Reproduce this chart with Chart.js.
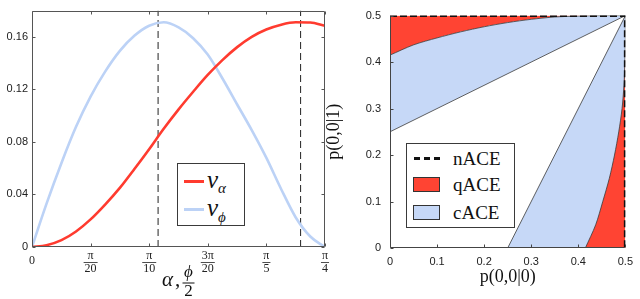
<!DOCTYPE html>
<html>
<head>
<meta charset="utf-8">
<script src="https://cdn.jsdelivr.net/npm/chart.js@4.4.1/dist/chart.umd.min.js"></script>
<style>
    html, body { margin: 0; padding: 0; background: #fff; }
    #wrap { position: relative; width: 640px; height: 299px; overflow: hidden; }
    #cL { position: absolute; left: 0; top: 0; }
    #cR { position: absolute; left: 322px; top: 0; }
    .leg { position: absolute; background: #fff; border: 1px solid #3a3a3a; box-sizing: border-box;
           font-family: "Liberation Serif", "DejaVu Serif", serif; color: #111; }
    .leg .it { position: absolute; white-space: nowrap; line-height: 1; }
    .sw { position: absolute; box-sizing: border-box; }
</style>
</head>
<body>
<div id="wrap">
    <canvas id="cL" width="332" height="299"></canvas>
    <canvas id="cR" width="318" height="299"></canvas>

    <!-- left legend -->
    <div class="leg" style="left:177px; top:163px; width:68px; height:63px;">
        <div class="sw" style="left:6px; top:16px; width:20px; height:2.5px; background:#ff3b2f;"></div>
        <div class="it" style="left:29px; top:3px; font-size:25px;"><i>v</i><span style="font-size:15px; position:relative; top:5px;"><i>α</i></span></div>
        <div class="sw" style="left:6px; top:44px; width:20px; height:2.5px; background:#bcd2f6;"></div>
        <div class="it" style="left:29px; top:31px; font-size:25px;"><i>v</i><span style="font-size:15px; position:relative; top:6px;"><i>ϕ</i></span></div>
    </div>

    <!-- right legend -->
    <div class="leg" style="left:406px; top:143px; width:109px; height:85px;">
        <div class="sw" style="left:7px; top:13px; width:27px; height:3px;
             background:repeating-linear-gradient(90deg,#111 0 6px,transparent 6px 10px);"></div>
        <div class="it" style="left:46px; top:5px; font-size:19px;">nACE</div>
        <div class="sw" style="left:6px; top:33px; width:27px; height:15px; background:#ff4433; border:1px solid #333;"></div>
        <div class="it" style="left:46px; top:31px; font-size:19px;">qACE</div>
        <div class="sw" style="left:6px; top:61px; width:27px; height:15px; background:#c6d8f7; border:1px solid #333;"></div>
        <div class="it" style="left:46px; top:59px; font-size:19px;">cACE</div>
    </div>
</div>

<script>
'use strict';

// ── left panel: v_alpha and v_phi against alpha, phi/2 ─────────
const angle  = [0, 0.039, 0.079, 0.118, 0.157, 0.196, 0.236, 0.275, 0.314, 0.353, 0.393,
                0.432, 0.471, 0.511, 0.550, 0.589, 0.628, 0.668, 0.707, 0.746, 0.785];
const vAlpha = [0, 0.0013, 0.0052, 0.0118, 0.0210, 0.0323, 0.0452, 0.0596, 0.0745, 0.0900, 0.1048,
                0.1182, 0.1310, 0.1425, 0.1522, 0.1600, 0.1656, 0.1693, 0.1711, 0.1709, 0.1684];
const vPhi   = [0, 0.0330, 0.0640, 0.0915, 0.1145, 0.1335, 0.1495, 0.1610, 0.1685, 0.1711, 0.1672,
                0.1590, 0.1465, 0.1281, 0.1085, 0.0890, 0.0680, 0.0440, 0.0225, 0.0080, 0];
const peakX  = [0.338, 0.720];           // dashed markers at the two maxima

const angleTicks = [0, 0.1571, 0.3142, 0.4712, 0.6283, 0.7854];
const tickNum    = ['0', 'π', 'π', '3π', 'π', 'π'];
const tickDen    = ['', '20', '10', '20', '5', '4'];
const vTicks     = [0, 0.04, 0.08, 0.12, 0.16];

// ── right panel: regions in the p(0,0|0), p(0,0|1) square ──────
const qTopX   = [0, 0.05, 0.10, 0.15, 0.20, 0.25, 0.30, 0.35, 0.40, 0.45, 0.50];
const qTopY   = [0.415, 0.437, 0.452, 0.465, 0.476, 0.485, 0.492, 0.497, 0.499, 0.500, 0.500];
const qSideX  = [0.415, 0.437, 0.452, 0.466, 0.477, 0.486, 0.493, 0.497, 0.499, 0.500, 0.500];
const qSideY  = [0, 0.05, 0.10, 0.15, 0.20, 0.25, 0.30, 0.35, 0.40, 0.45, 0.50];
const cTop    = [[0, 0.25], [0.5, 0.5]];
const cSide   = [[0.25, 0], [0.5, 0.5]];
const nEdge   = [[0, 0.5], [0.5, 0.5], [0.5, 0]];
const pTicks  = [0, 0.1, 0.2, 0.3, 0.4, 0.5];

const RED  = '#ff4433';
const BLUE = '#c6d8f7';
const EDGE = '#3a3a3a';
const SANS = '"Liberation Sans", Arial, sans-serif';
const SERIF = '"Liberation Serif", "DejaVu Serif", serif';

const xy = (xs, ys) => xs.map((x, i) => ({ x: x, y: ys[i] }));
const pairs = arr => arr.map(p => ({ x: p[0], y: p[1] }));

// box frame with short inward ticks
const framePlugin = {
    id: 'frame',
    afterDatasetsDraw(chart, args, opts) {
        const { ctx, chartArea: a, scales: { x, y } } = chart;
        const L = Math.round(a.left) + 0.5, R = Math.round(a.right) - 0.5;
        const T = Math.round(a.top) + 0.5, B = Math.round(a.bottom) - 0.5;
        const t = 3;
        ctx.save();
        ctx.strokeStyle = opts.color || '#444';
        ctx.lineWidth = 1;
        ctx.beginPath();
        ctx.moveTo(L, T); ctx.lineTo(L, B); ctx.lineTo(R, B);
        if (opts.full) { ctx.lineTo(R, T); ctx.lineTo(L, T); }
        x.ticks.forEach(tk => {
            const px = Math.round(x.getPixelForValue(tk.value)) + 0.5;
            ctx.moveTo(px, B); ctx.lineTo(px, B - t);
            if (opts.full) { ctx.moveTo(px, T); ctx.lineTo(px, T + t); }
        });
        y.ticks.forEach(tk => {
            const py = Math.round(y.getPixelForValue(tk.value)) + 0.5;
            ctx.moveTo(L, py); ctx.lineTo(L + t, py);
            if (opts.full) { ctx.moveTo(R, py); ctx.lineTo(R - t, py); }
        });
        ctx.stroke();
        ctx.restore();
    }
};

// fraction tick labels and the alpha, phi/2 title under the left panel
const fracPlugin = {
    id: 'fracTicks',
    afterDraw(chart) {
        const { ctx, chartArea: a, scales: { x } } = chart;
        ctx.save();
        ctx.fillStyle = '#222';
        ctx.textAlign = 'center';
        ctx.textBaseline = 'middle';
        ctx.font = '12px ' + SERIF;
        angleTicks.forEach((v, i) => {
            const px = x.getPixelForValue(v);
            if (!tickDen[i]) {
                ctx.fillText(tickNum[i], px, a.bottom + 14);
                return;
            }
            const w = Math.max(ctx.measureText(tickNum[i]).width, ctx.measureText(tickDen[i]).width) + 2;
            ctx.fillText(tickNum[i], px, a.bottom + 9);
            ctx.fillRect(px - w / 2, a.bottom + 15, w, 0.8);
            ctx.fillText(tickDen[i], px, a.bottom + 21.5);
        });

        const cx = (a.left + a.right) / 2;
        ctx.fillStyle = '#111';
        ctx.font = 'italic 21px ' + SERIF;
        ctx.fillText('α', cx - 11, a.bottom + 33);
        ctx.font = '21px ' + SERIF;
        ctx.fillText(',', cx - 1, a.bottom + 33);
        ctx.font = 'italic 17px ' + SERIF;
        ctx.fillText('ϕ', cx + 10, a.bottom + 26);
        ctx.fillRect(cx + 4, a.bottom + 35.5, 12, 1);
        ctx.font = '17px ' + SERIF;
        ctx.fillText('2', cx + 10, a.bottom + 45);
        ctx.restore();
    }
};

const tickFont = { family: SANS, size: 11 };

new Chart(document.getElementById('cL'), {
    type: 'scatter',
    data: {
        datasets: [
            { label: 'v_alpha', data: xy(angle, vAlpha), showLine: true, borderColor: '#ff3b2f',
              borderWidth: 2.6, pointRadius: 0, cubicInterpolationMode: 'monotone' },
            { label: 'v_phi', data: xy(angle, vPhi), showLine: true, borderColor: '#bcd2f6',
              borderWidth: 2.6, pointRadius: 0, cubicInterpolationMode: 'monotone' },
            ...peakX.map(px => ({
                label: 'peak', data: [{ x: px, y: 0 }, { x: px, y: 0.18 }], showLine: true,
                borderColor: '#222', borderWidth: 1, borderDash: [7, 4], pointRadius: 0
            }))
        ]
    },
    options: {
        responsive: false,
        animation: false,
        layout: { padding: { left: 0, right: 7, top: 5, bottom: 0 } },
        plugins: { legend: { display: false }, tooltip: { enabled: false }, frame: { full: true, color: '#555' } },
        scales: {
            x: {
                type: 'linear', min: 0, max: 0.7854,
                afterBuildTicks: s => { s.ticks = angleTicks.map(v => ({ value: v })); },
                afterFit: s => { s.height = 52; },
                ticks: { display: false },
                grid: { display: false },
                border: { display: false }
            },
            y: {
                min: 0, max: 0.18,
                afterBuildTicks: s => { s.ticks = vTicks.map(v => ({ value: v })); },
                afterFit: s => { s.width = 32; },
                ticks: { padding: 4, color: '#222', font: tickFont },
                grid: { display: false, drawTicks: false },
                border: { display: false }
            }
        }
    },
    plugins: [framePlugin, fracPlugin]
});

new Chart(document.getElementById('cR'), {
    type: 'scatter',
    data: {
        datasets: [
            { label: 'nACE', data: pairs(nEdge), showLine: true, borderColor: '#111', borderWidth: 3,
              borderDash: [7, 3], pointRadius: 0, order: 1 },
            { label: 'qACE side', data: xy(qSideX, qSideY), showLine: true, borderColor: EDGE, borderWidth: 0.8,
              backgroundColor: RED, fill: 'start', pointRadius: 0, tension: 0.3, order: 2 },
            { label: 'cACE side', data: pairs(cSide), showLine: true, borderColor: EDGE, borderWidth: 0.8,
              backgroundColor: BLUE, fill: 'start', pointRadius: 0, order: 3 },
            { label: 'gap', data: pairs(cTop), showLine: true, borderColor: EDGE, borderWidth: 0.8,
              backgroundColor: '#ffffff', fill: 'start', pointRadius: 0, order: 4 },
            { label: 'cACE top', data: xy(qTopX, qTopY), showLine: true, borderColor: EDGE, borderWidth: 0.8,
              backgroundColor: BLUE, fill: 'start', pointRadius: 0, tension: 0.3, order: 5 },
            { label: 'qACE top', data: xy(qTopX, qTopY), showLine: true, borderWidth: 0,
              backgroundColor: RED, fill: 'end', pointRadius: 0, tension: 0.3, order: 6 }
        ]
    },
    options: {
        responsive: false,
        animation: false,
        layout: { padding: { left: 0, right: 8, top: 6, bottom: 0 } },
        plugins: { legend: { display: false }, tooltip: { enabled: false }, frame: { full: false, color: '#444' } },
        scales: {
            x: {
                type: 'linear', min: 0, max: 0.5,
                afterBuildTicks: s => { s.ticks = pTicks.map(v => ({ value: v })); },
                afterFit: s => { s.height = 51; },
                ticks: { padding: 7, color: '#222', font: tickFont },
                grid: { display: false, drawTicks: false },
                border: { display: false },
                title: { display: true, text: 'p(0,0|0)', color: '#111',
                         font: { family: SERIF, size: 18 }, padding: { top: 0, bottom: 11 } }
            },
            y: {
                min: 0, max: 0.5,
                afterBuildTicks: s => { s.ticks = pTicks.map(v => ({ value: v })); },
                afterFit: s => { s.width = 68; },
                ticks: { padding: 9, color: '#222', font: tickFont },
                grid: { display: false, drawTicks: false },
                border: { display: false },
                title: { display: true, text: 'p(0,0|1)', color: '#111',
                         font: { family: SERIF, size: 18 }, padding: { top: 1, bottom: 0 } }
            }
        }
    },
    plugins: [framePlugin]
});
</script>
</body>
</html>
